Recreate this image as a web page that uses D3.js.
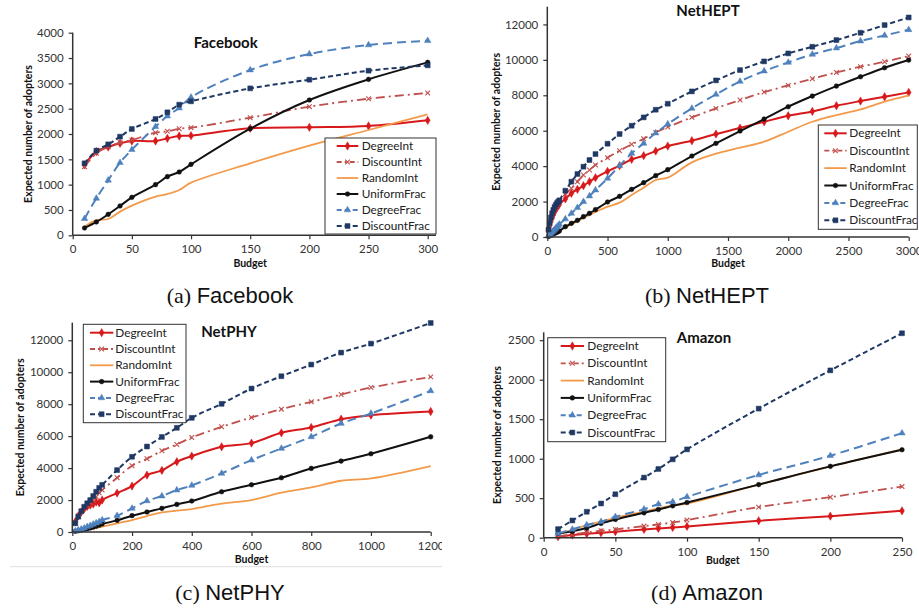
<!DOCTYPE html>
<html>
<head>
<meta charset="utf-8">
<script src="https://cdn.jsdelivr.net/npm/d3@7"></script>
<style>
  body { margin: 0; background: #fff; }
  svg { display: block; }
  .tick text { font-family: Lato, sans-serif; font-size: 11.5px; fill: #333; }
</style>
</head>
<body>
<div id="chart"></div>
<script>
// series names, shared by all four panels
const seriesNames = ['DegreeInt', 'DiscountInt', 'RandomInt', 'UniformFrac', 'DegreeFrac', 'DiscountFrac'];

// (a) Facebook
const fbBudget = [10, 20, 30, 40, 50, 70, 80, 90, 100, 150, 200, 250, 300];
const fbDegreeInt = [1390, 1651, 1743, 1816, 1862, 1862, 1914, 1960, 1967, 2112, 2132, 2158, 2270];
const fbDiscountInt = [1355, 1618, 1750, 1829, 1882, 2026, 2053, 2105, 2125, 2322, 2540, 2697, 2809];
const fbRandomInt = [171, 300, 322, 467, 585, 763, 815, 895, 1039, 1421, 1770, 2079, 2388];
const fbUniformFrac = [145, 263, 414, 579, 750, 1000, 1158, 1250, 1401, 2105, 2671, 3079, 3414];
const fbDegreeFrac = [329, 730, 1086, 1434, 1691, 2145, 2355, 2513, 2724, 3263, 3579, 3757, 3842];
const fbDiscountFrac = [1421, 1671, 1796, 1947, 2099, 2296, 2428, 2579, 2645, 2901, 3072, 3250, 3355];

// (b) NetHEPT
const heptBudget = [10, 20, 30, 40, 50, 60, 70, 80, 90, 100, 150, 200, 250, 300, 350, 400, 500, 600, 700, 800, 900, 1000,
  1200, 1400, 1600, 1800, 2000, 2200, 2400, 2600, 2800, 3000];
const heptDegreeInt = [350, 650, 900, 1100, 1270, 1420, 1550, 1660, 1760, 1850, 2150, 2464, 2690, 2896, 3122, 3348, 3705, 4025,
  4382, 4589, 4852, 5134, 5435, 5812, 6150, 6507, 6846, 7090, 7410, 7673, 7918, 8163];
const heptDiscountInt = [360, 680, 940, 1150, 1330, 1490, 1630, 1760, 1870, 1994, 2426, 2746, 3122, 3498, 3780, 4062, 4476, 4871,
  5229, 5548, 5906, 6207, 6752, 7260, 7730, 8181, 8558, 8934, 9291, 9611, 9893, 10213];
const heptRandomInt = [35, 70, 105, 140, 175, 210, 245, 280, 315, 350, 540, 715, 890, 1072, 1240, 1411, 1711, 1937,
  2370, 2784, 3216, 3348, 4213, 4702, 5040, 5379, 5943, 6507, 6884, 7203, 7636, 7993];
const heptUniformFrac = [35, 70, 100, 135, 170, 205, 240, 270, 305, 339, 583, 771, 940, 1147, 1335, 1542, 1975, 2295,
  2689, 3066, 3461, 3799, 4570, 5285, 5981, 6658, 7354, 7956, 8520, 9046, 9554, 9987];
const heptDegreeFrac = [70, 140, 210, 280, 350, 420, 490, 560, 630, 715, 1016, 1335, 1655, 1994, 2313, 2652, 3310, 4025,
  4721, 5285, 5868, 6376, 7260, 8050, 8783, 9366, 9855, 10307, 10664, 11059, 11379, 11698];
const heptDiscountFrac = [420, 800, 1100, 1340, 1530, 1690, 1810, 1910, 1990, 2070, 2614, 3122, 3555, 3968, 4345, 4683, 5266, 5812,
  6282, 6752, 7185, 7523, 8219, 8840, 9423, 9912, 10363, 10739, 11115, 11529, 11962, 12394];

// (c) NetPHY
const phyBudget = [10, 20, 30, 40, 50, 60, 70, 80, 90, 100, 150, 200, 250, 300, 350, 400, 500, 600, 700, 800, 900, 1000, 1200];
const phyDegreeInt = [650, 1000, 1250, 1450, 1600, 1680, 1750, 1880, 1830, 2000, 2438, 2875, 3563, 3854, 4396, 4750, 5333, 5563,
  6208, 6542, 7063, 7313, 7542];
const phyDiscountInt = [560, 1000, 1300, 1550, 1700, 1850, 2000, 2200, 2450, 2625, 3396, 4146, 4583, 5083, 5479, 5917, 6583, 7167,
  7688, 8146, 8604, 9042, 9708];
const phyRandomInt = [30, 60, 90, 120, 150, 180, 210, 250, 290, 333, 542, 750, 1000, 1229, 1340, 1438, 1771, 2000,
  2458, 2792, 3208, 3354, 4125];
const phyUniformFrac = [40, 80, 120, 160, 200, 250, 300, 360, 430, 500, 729, 1021, 1250, 1479, 1729, 1938, 2521, 2958,
  3396, 3979, 4438, 4896, 5958];
const phyDegreeFrac = [60, 120, 180, 240, 330, 400, 480, 560, 640, 750, 1021, 1479, 1950, 2250, 2625, 2917, 3667, 4500,
  5229, 5958, 6792, 7417, 8833];
const phyDiscountFrac = [542, 958, 1300, 1580, 1800, 2000, 2250, 2520, 2760, 2950, 3875, 4708, 5350, 5950, 6521, 7146, 8021, 8979,
  9750, 10479, 11229, 11792, 13083];

// (d) Amazon
const amzBudget = [10, 20, 30, 40, 50, 70, 80, 90, 100, 150, 200, 250];
const amzDegreeInt = [13, 34, 50, 63, 76, 105, 118, 130, 143, 214, 273, 340];
const amzDiscountInt = [17, 42, 67, 88, 105, 147, 168, 193, 223, 387, 513, 647];
const amzRandomInt = [42, 100, 160, 205, 252, 330, 370, 410, 433, 672, 903, 1118];
const amzUniformFrac = [55, 80, 122, 181, 231, 315, 357, 403, 445, 672, 903, 1113];
const amzDegreeFrac = [55, 105, 160, 202, 265, 361, 424, 454, 517, 794, 1038, 1324];
const amzDiscountFrac = [109, 218, 328, 433, 550, 761, 870, 992, 1118, 1634, 2118, 2588];

const width = 919;
const height = 611;

// look of each series (same order as seriesNames)
const styles = [
  { color: '#d7191c', dash: null, width: 2, marker: d3.symbolDiamond, size: 20, fill: true },
  { color: '#c0504d', dash: '9,4,2,4', width: 1.8, marker: d3.symbolX, size: 16, fill: false },
  { color: '#f39a4a', dash: null, width: 1.8, marker: null },
  { color: '#111', dash: null, width: 2, marker: d3.symbolCircle, size: 17, fill: true },
  { color: '#4f81bd', dash: '9,5', width: 2, marker: d3.symbolTriangle, size: 18, fill: true },
  { color: '#1f3864', dash: '5,3', width: 2, marker: d3.symbolSquare, size: 24, fill: true }
];

const panels = [
  {
    budget: fbBudget,
    values: [fbDegreeInt, fbDiscountInt, fbRandomInt, fbUniformFrac, fbDegreeFrac, fbDiscountFrac],
    xDomain: [0, 300], xRange: [72.7, 427.7], xTicks: d3.range(0, 301, 50), xLineEnd: 436,
    yDomain: [0, 4000], yRange: [235.3, 32.7], yTicks: d3.range(0, 4001, 500),
    title: 'Facebook', titleX: 225.7, titleY: 48, yLabelX: 28, budgetY: 267,
    legend: { x: 325, y: 138, w: 111, h: 96, firstY: 146, row: 16, lx0: 336.7, lx1: 358.3, tx: 361.7 },
    tag: '(a)', name: 'Facebook', capX: 230, capY: 303
  },
  {
    budget: heptBudget,
    values: [heptDegreeInt, heptDiscountInt, heptRandomInt, heptUniformFrac, heptDegreeFrac, heptDiscountFrac],
    xDomain: [0, 3000], xRange: [547.3, 908.7], xTicks: d3.range(0, 3001, 500), xLineEnd: 908.7,
    yDomain: [0, 13000], yRange: [237, 6.7], yTicks: d3.range(0, 12001, 2000),
    title: 'NetHEPT', titleX: 708, titleY: 16, yLabelX: 496.7, budgetY: 267,
    legend: { x: 818.3, y: 125, w: 99, h: 104.3, firstY: 133.3, row: 17.4, lx0: 824.3, lx1: 846.7, tx: 849.3 },
    tag: '(b)', name: 'NetHEPT', capX: 707, capY: 303
  },
  {
    budget: phyBudget,
    values: [phyDegreeInt, phyDiscountInt, phyRandomInt, phyUniformFrac, phyDegreeFrac, phyDiscountFrac],
    xDomain: [0, 1200], xRange: [72.3, 430.7], xTicks: d3.range(0, 1201, 200), xLineEnd: 430.7,
    yDomain: [0, 13100], yRange: [532, 322.7], yTicks: d3.range(0, 12001, 2000),
    title: 'NetPHY', titleX: 229, titleY: 337, yLabelX: 20, budgetY: 563,
    legend: { x: 83.3, y: 324.3, w: 102.7, h: 98.4, firstY: 332.7, row: 16.3, lx0: 90, lx1: 113.3, tx: 115.3 },
    tag: '(c)', name: 'NetPHY', capX: 230, capY: 600,
    clipRight: 442, rule: { x0: 10, x1: 442, y: 566.7 }
  },
  {
    budget: amzBudget,
    values: [amzDegreeInt, amzDiscountInt, amzRandomInt, amzUniformFrac, amzDegreeFrac, amzDiscountFrac],
    xDomain: [0, 250], xRange: [543.7, 902], xTicks: d3.range(0, 251, 50), xLineEnd: 902,
    yDomain: [0, 2600], yRange: [537.7, 332.3], yTicks: d3.range(0, 2501, 500),
    title: 'Amazon', titleX: 704, titleY: 343, yLabelX: 497.3, budgetY: 564,
    legend: { x: 547.7, y: 337.7, w: 118, h: 104, firstY: 346, row: 17.3, lx0: 560.7, lx1: 584, tx: 587.3 },
    tag: '(d)', name: 'Amazon', capX: 707, capY: 600
  }
];

const svg = d3.select('#chart')
  .append('svg')
  .attr('width', width)
  .attr('height', height);

const fmt = d3.format('d');

panels.forEach((p, pi) => {
  let g = svg.append('g');

  if (p.clipRight) {
    svg.append('defs').append('clipPath')
      .attr('id', 'clip' + pi)
      .append('rect')
      .attr('x', 0).attr('y', 300)
      .attr('width', p.clipRight).attr('height', 311);
    g.attr('clip-path', `url(#clip${pi})`);
  }

  const x = d3.scaleLinear().domain(p.xDomain).range(p.xRange);
  const y = d3.scaleLinear().domain(p.yDomain).range(p.yRange);

  // series lines + markers
  p.values.forEach((vals, si) => {
    const st = styles[si];
    const pts = p.budget.map((b, i) => [b, vals[i]]);
    const line = d3.line()
      .x(d => x(d[0]))
      .y(d => y(d[1]))
      .curve(d3.curveCatmullRom.alpha(0.5));

    g.append('path')
      .datum(pts)
      .attr('d', line)
      .attr('fill', 'none')
      .attr('stroke', st.color)
      .attr('stroke-width', st.width)
      .attr('stroke-dasharray', st.dash);

    if (st.marker) {
      g.append('g')
        .selectAll('path')
        .data(pts)
        .join('path')
        .attr('transform', d => `translate(${x(d[0])},${y(d[1])})`)
        .attr('d', d3.symbol().type(st.marker).size(st.size))
        .attr('fill', st.fill ? st.color : 'none')
        .attr('stroke', st.color)
        .attr('stroke-width', st.fill ? 0.5 : 1.1);
    }
  });

  // axes
  const xAxis = g.append('g')
    .attr('transform', `translate(0,${p.yRange[0]})`)
    .call(d3.axisBottom(x).tickValues(p.xTicks).tickFormat(fmt).tickSize(4).tickPadding(6).tickSizeOuter(0));
  xAxis.select('.domain').remove();
  xAxis.selectAll('.tick line').attr('stroke', '#333').attr('stroke-width', 1.2);
  g.append('line')
    .attr('x1', p.xRange[0]).attr('x2', p.xLineEnd)
    .attr('y1', p.yRange[0]).attr('y2', p.yRange[0])
    .attr('stroke', '#333').attr('stroke-width', 1.5);

  const yAxis = g.append('g')
    .attr('transform', `translate(${p.xRange[0]},0)`)
    .call(d3.axisLeft(y).tickValues(p.yTicks).tickFormat(fmt).tickSize(4).tickPadding(5).tickSizeOuter(0));
  yAxis.select('.domain').remove();
  yAxis.selectAll('.tick line').attr('stroke', '#333').attr('stroke-width', 1.2);
  g.append('line')
    .attr('x1', p.xRange[0]).attr('x2', p.xRange[0])
    .attr('y1', p.yRange[0]).attr('y2', p.yRange[1])
    .attr('stroke', '#333').attr('stroke-width', 1.5);

  // titles
  g.append('text')
    .attr('x', p.titleX).attr('y', p.titleY)
    .attr('text-anchor', 'middle')
    .style('font-family', 'Lato, sans-serif')
    .style('font-weight', 'bold')
    .style('font-size', '15px')
    .attr('fill', '#111')
    .text(p.title);

  const yMid = (p.yRange[0] + p.yRange[1]) / 2;
  g.append('text')
    .attr('transform', `translate(${p.yLabelX},${yMid}) rotate(-90)`)
    .attr('text-anchor', 'middle')
    .attr('dy', '0.35em')
    .style('font-family', 'Lato, sans-serif')
    .style('font-weight', 'bold')
    .style('font-size', '10.5px')
    .attr('fill', '#111')
    .text('Expected number of adopters');

  g.append('text')
    .attr('x', (p.xRange[0] + p.xRange[1]) / 2).attr('y', p.budgetY)
    .attr('text-anchor', 'middle')
    .style('font-family', 'Lato, sans-serif')
    .style('font-weight', 'bold')
    .style('font-size', '10.5px')
    .attr('fill', '#111')
    .text('Budget');

  // legend
  const L = p.legend;
  const lg = g.append('g');
  lg.append('rect')
    .attr('x', L.x).attr('y', L.y)
    .attr('width', L.w).attr('height', L.h)
    .attr('fill', '#fff')
    .attr('stroke', '#333')
    .attr('stroke-width', 1);

  seriesNames.forEach((name, si) => {
    const st = styles[si];
    const ry = L.firstY + si * L.row;
    lg.append('line')
      .attr('x1', L.lx0).attr('x2', L.lx1)
      .attr('y1', ry).attr('y2', ry)
      .attr('stroke', st.color)
      .attr('stroke-width', st.width)
      .attr('stroke-dasharray', st.dash ? (si === 1 ? '5,3,2,3' : '5,3') : null);
    if (st.marker) {
      lg.append('path')
        .attr('transform', `translate(${(L.lx0 + L.lx1) / 2},${ry})`)
        .attr('d', d3.symbol().type(st.marker).size(st.size))
        .attr('fill', st.fill ? st.color : 'none')
        .attr('stroke', st.color)
        .attr('stroke-width', st.fill ? 0.5 : 1.1);
    }
    lg.append('text')
      .attr('x', L.tx).attr('y', ry)
      .attr('dy', '0.35em')
      .style('font-family', 'Lato, sans-serif')
      .style('font-size', '11.8px')
      .attr('fill', '#222')
      .text(name);
  });

  if (p.rule) {
    svg.append('line')
      .attr('x1', p.rule.x0).attr('x2', p.rule.x1)
      .attr('y1', p.rule.y).attr('y2', p.rule.y)
      .attr('stroke', '#ddd').attr('stroke-width', 1);
  }

  // caption under the panel
  const cap = svg.append('text')
    .attr('x', p.capX).attr('y', p.capY)
    .attr('text-anchor', 'middle')
    .attr('fill', '#111')
    .style('font-size', '22px');
  cap.append('tspan')
    .style('font-family', '"Liberation Serif", serif')
    .text(p.tag + ' ');
  cap.append('tspan')
    .style('font-family', '"Liberation Sans", Arial, sans-serif')
    .text(p.name);
});
</script>
</body>
</html>
